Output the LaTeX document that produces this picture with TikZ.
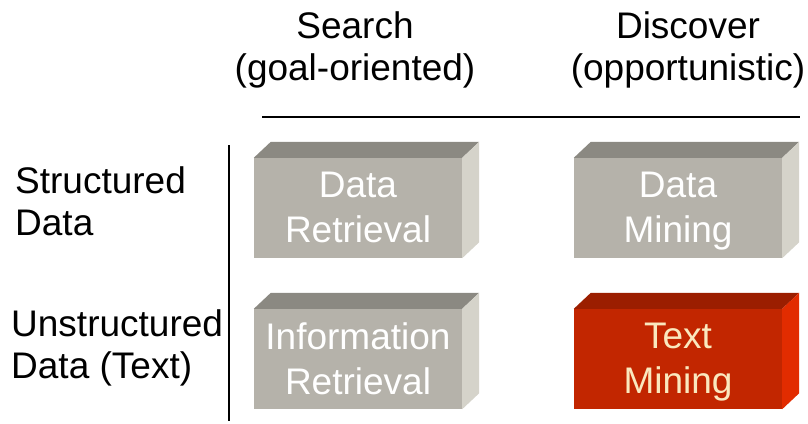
\documentclass[tikz,border=0pt]{standalone}
\usepackage{fontspec}
\setmainfont{Liberation Sans}

\definecolor{grayfront}{RGB}{181,178,170}
\definecolor{graytop}{RGB}{139,137,130}
\definecolor{grayside}{RGB}{213,211,202}
\definecolor{redfront}{RGB}{194,38,0}
\definecolor{redtop}{RGB}{155,30,0}
\definecolor{redside}{RGB}{226,44,0}
\definecolor{cream}{RGB}{250,232,190}

\begin{document}
\begin{tikzpicture}[x=1pt, y=-1pt,
    every node/.style={font=\fontsize{37}{42}\selectfont, inner sep=0pt},
    block/.style={minimum width=208pt, minimum height=100pt},
    blocktext/.style={align=center, font=\fontsize{37}{45}\selectfont},
    rowlabel/.style={anchor=west, align=left},
    collabel/.style={align=center}]
      \useasboundingbox (0,0) rectangle (808,423);
      % column and row headings
      \node[collabel] (search) at (355,50) {Search\\(goal-oriented)};
      \node[collabel] (discover) at (688,50) {Discover\\(opportunistic)};
      \node[rowlabel] (structured) at (15,201) {Structured\\Data};
      \node[rowlabel] (unstructured) at (11,348) {Unstructured\\Data (Text)};
      \draw[line width=2pt] (262,117) -- (800,117);
      \draw[line width=2pt] (229,145) -- (229,421);
      % the four boxes
      \foreach \n/\x/\y/\f/\t/\s/\c/\txt in {
          dataretr/358/208/grayfront/graytop/grayside/white/{Data\\Retrieval\vphantom{g}},
          datamin/678/208/grayfront/graytop/grayside/white/{Data\\Mining},
          inforetr/358/359/grayfront/graytop/grayside/white/{Information\\Retrieval\vphantom{g}},
          textmin/678/359/redfront/redtop/redside/cream/{Text\\Mining}} {
        \node[block, fill=\f] (\n) at (\x,\y) {};
        \fill[\t] (\n.north west) -- ++(17,-16) -- ([shift={(17,-16)}]\n.north east) -- (\n.north east) -- cycle;
        \fill[\s] (\n.north east) -- ++(17,-16) -- ([shift={(17,-16)}]\n.south east) -- (\n.south east) -- cycle;
        \node[blocktext, text=\c] (\n-label) at ([yshift=-3pt]\n.center) {\txt};
      }
    \end{tikzpicture}
\end{document}
